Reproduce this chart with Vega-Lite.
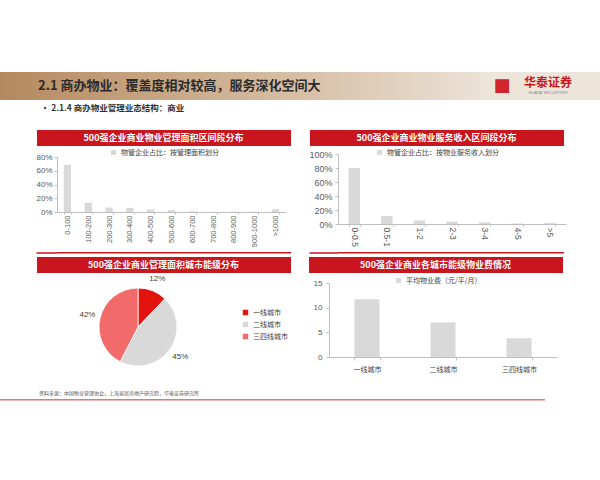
{
  "$schema": "https://vega.github.io/schema/vega-lite/v6.json",
  "background": "white",
  "padding": {"top": 72, "left": 0, "right": 0, "bottom": 0},
  "config": {
    "view": {"stroke": null},
    "font": "Noto Sans CJK SC",
    "axis": {"labelFont": "Liberation Sans", "labelFontSize": 8, "labelColor": "#595959", "domainColor": "#bfbfbf", "tickColor": "#bfbfbf", "grid": false, "title": null},
    "legend": {"labelFont": "Noto Sans CJK SC", "labelColor": "#404040", "labelFontSize": 7, "symbolType": "square", "symbolStrokeWidth": 0, "padding": 0},
    "title": {"font": "Noto Sans CJK SC"}
  },
  "spacing": 3,
  "resolve": {"scale": {"color": "independent"}, "legend": {"color": "independent"}},
  "vconcat": [
    {
      "spacing": 0,
      "hconcat": [
        {
          "width": 480, "height": 28,
          "layer": [
            {"data": {"values": [{}]}, "mark": {"type": "rect", "color": {"gradient": "linear", "x1": 0, "x2": 1, "y1": 0, "y2": 0, "stops": [{"offset": 0, "color": "#b5895f"}, {"offset": 0.6, "color": "#d6bda3"}, {"offset": 1, "color": "#ebe1d5"}]}}, "encoding": {}},
            {"data": {"values": [{"t": "2.1 商办物业：覆盖度相对较高，服务深化空间大"}]}, "mark": {"type": "text", "align": "left", "dx": -202, "fontSize": 13, "fontWeight": "bold", "color": "#2b2b2b"}, "encoding": {"text": {"field": "t"}}}
          ]
        },
        {
          "width": 120, "height": 28,
          "layer": [
            {"data": {"values": [{}]}, "mark": {"type": "rect", "color": "#ede4da"}, "encoding": {}},
            {"data": {"values": [{"t": "华泰证券"}]}, "mark": {"type": "text", "fontSize": 12, "fontWeight": "bold", "color": "#c8161d", "dx": 8, "dy": -3}, "encoding": {"text": {"field": "t"}}},
            {"data": {"values": [{"t": "HUATAI SECURITIES"}]}, "mark": {"type": "text", "fontSize": 4, "font": "Liberation Sans", "color": "#8a8a8a", "dx": 8, "dy": 7}, "encoding": {"text": {"field": "t"}}},
            {"data": {"values": [{"t": "■"}]}, "mark": {"type": "text", "fontSize": 18, "font": "DejaVu Sans", "color": "#d0252b", "dx": -38}, "encoding": {"text": {"field": "t"}}}
          ]
        }
      ]
    },
    {
      "spacing": 34,
      "resolve": {"scale": {"color": "independent"}, "legend": {"color": "independent"}},
      "hconcat": [
        {"width": 1, "height": 1, "data": {"values": []}, "mark": "point", "encoding": {}},
        {
          "title": {"text": "•   2.1.4 商办物业管理业态结构：商业", "anchor": "start", "dx": 5, "fontSize": 8.5, "fontWeight": "bold", "color": "#333333", "offset": 18},
          "spacing": 1,
          "resolve": {"scale": {"color": "independent"}, "legend": {"color": "independent"}},
          "vconcat": [
            {
              "spacing": 17,
              "resolve": {"scale": {"color": "independent"}, "legend": {"color": "independent"}},
              "hconcat": [
                {
                  "spacing": 3,
                  "resolve": {"scale": {"color": "independent"}, "legend": {"color": "independent"}},
                  "vconcat": [
                    {
                      "width": 234, "height": 16, "view": {"fill": "#c9151e"},
                      "data": {"values": [{"t": "500强企业商业物业管理面积区间段分布"}]},
                      "mark": {"type": "text", "color": "white", "fontSize": 9, "fontWeight": "bold", "dx": -10.5},
                      "encoding": {
                        "text": {"field": "t"},
                        "y": {"datum": 8, "type": "quantitative", "scale": {"domain": [0, 16]}, "axis": {"values": [1, 3, 5, 7, 9, 11, 13, 15], "labels": false, "domain": false, "translate": 0, "tickSize": 20, "tickWidth": 2, "tickColor": "#c9151e", "minExtent": 21}}
                      }
                    },
                    {
                      "width": 229, "height": 55,
                      "data": {"values": [
                        {"range": "0-100", "share": 0.685},
                        {"range": "100-200", "share": 0.135},
                        {"range": "200-300", "share": 0.065},
                        {"range": "300-400", "share": 0.06},
                        {"range": "400-500", "share": 0.037},
                        {"range": "500-600", "share": 0.025},
                        {"range": "600-700", "share": 0.01},
                        {"range": "700-800", "share": 0.003},
                        {"range": "800-900", "share": 0.006},
                        {"range": "900-1000", "share": 0.005},
                        {"range": ">1000", "share": 0.042}
                      ]},
                      "mark": "bar",
                      "encoding": {
                        "x": {"field": "range", "type": "nominal", "sort": null, "scale": {"paddingInner": 0.65, "paddingOuter": 0.325}, "axis": {"labelAngle": -90, "labelFontSize": 7.5, "tickBand": "extent", "tickSize": 2, "labelPadding": 1}},
                        "y": {"field": "share", "type": "quantitative", "scale": {"domain": [0, 0.8]}, "axis": {"values": [0, 0.2, 0.4, 0.6, 0.8], "format": ".0%", "tickSize": 3, "labelPadding": 2, "minExtent": 21}},
                        "color": {"datum": "物管企业占比：按管理面积划分", "type": "nominal", "scale": {"range": ["#d9d9d9"]}, "legend": {"orient": "none", "legendX": 53, "legendY": -8, "title": null, "symbolSize": 25}}
                      }
                    },
                    {
                      "width": 234, "height": 1.5, "view": {"fill": "#c9151e"},
                      "data": {"values": [{}]},
                      "mark": {"type": "point", "opacity": 0},
                      "encoding": {
                        "y": {"datum": 0.5, "type": "quantitative", "scale": {"domain": [0, 1]}, "axis": {"values": [0.5], "labels": false, "domain": false, "translate": 0, "tickSize": 20.5, "tickWidth": 1.5, "tickColor": "#c9151e", "minExtent": 21}}
                      }
                    }
                  ]
                },
                {
                  "spacing": 3,
                  "resolve": {"scale": {"color": "independent"}, "legend": {"color": "independent"}},
                  "vconcat": [
                    {
                      "width": 226, "height": 16, "view": {"fill": "#c9151e"},
                      "data": {"values": [{"t": "500强企业商业物业服务收入区间段分布"}]},
                      "mark": {"type": "text", "color": "white", "fontSize": 9, "fontWeight": "bold", "dx": -14.5},
                      "encoding": {
                        "text": {"field": "t"},
                        "y": {"datum": 8, "type": "quantitative", "scale": {"domain": [0, 16]}, "axis": {"values": [1, 3, 5, 7, 9, 11, 13, 15], "labels": false, "domain": false, "translate": 0, "tickSize": 28, "tickWidth": 2, "tickColor": "#c9151e", "minExtent": 29}}
                      }
                    },
                    {
                      "width": 228, "height": 70,
                      "data": {"values": [
                        {"range": "0-0.5", "share": 0.80},
                        {"range": "0.5-1", "share": 0.114},
                        {"range": "1-2", "share": 0.05},
                        {"range": "2-3", "share": 0.033},
                        {"range": "3-4", "share": 0.024},
                        {"range": "4-5", "share": 0.008},
                        {"range": ">5", "share": 0.015}
                      ]},
                      "mark": "bar",
                      "encoding": {
                        "x": {"field": "range", "type": "nominal", "sort": null, "scale": {"paddingInner": 0.65, "paddingOuter": 0.325}, "axis": {"labelAngle": 90, "labelFontSize": 8.5, "tickBand": "extent", "tickSize": 2, "labelPadding": 1}},
                        "y": {"field": "share", "type": "quantitative", "scale": {"domain": [0, 1]}, "axis": {"values": [0, 0.2, 0.4, 0.6, 0.8, 1], "format": ".0%", "labelFontSize": 9, "tickSize": 3, "labelPadding": 3, "minExtent": 29}},
                        "color": {"datum": "物管企业占比：按物业服务收入划分", "type": "nominal", "scale": {"range": ["#d9d9d9"]}, "legend": {"orient": "none", "legendX": 38, "legendY": -5, "title": null, "symbolSize": 25}}
                      }
                    },
                    {
                      "width": 226, "height": 1.5, "view": {"fill": "#c9151e"},
                      "data": {"values": [{}]},
                      "mark": {"type": "point", "opacity": 0},
                      "encoding": {
                        "y": {"datum": 0.5, "type": "quantitative", "scale": {"domain": [0, 1]}, "axis": {"values": [0.5], "labels": false, "domain": false, "translate": 0, "tickSize": 28.5, "tickWidth": 1.5, "tickColor": "#c9151e", "minExtent": 29}}
                      }
                    }
                  ]
                }
              ]
            },
            {
              "spacing": 17,
              "resolve": {"scale": {"color": "independent"}, "legend": {"color": "independent"}},
              "hconcat": [
                {
                  "spacing": 1,
                  "title": {"text": "资料来源：中国物业管理协会，上海易居房地产研究院，华泰证券研究所", "orient": "bottom", "anchor": "start", "fontSize": 5, "fontWeight": "normal", "color": "#555555", "offset": 20, "dx": 3},
                  "resolve": {"scale": {"color": "independent"}, "legend": {"color": "independent"}},
                  "vconcat": [
                    {
                      "width": 234, "height": 16, "view": {"fill": "#c9151e"},
                      "data": {"values": [{"t": "500强企业商业管理面积城市能级分布"}]},
                      "mark": {"type": "text", "color": "white", "fontSize": 9, "fontWeight": "bold", "dx": -10.5},
                      "encoding": {
                        "text": {"field": "t"},
                        "y": {"datum": 8, "type": "quantitative", "scale": {"domain": [0, 16]}, "axis": {"values": [1, 3, 5, 7, 9, 11, 13, 15], "labels": false, "domain": false, "translate": 0, "tickSize": 20, "tickWidth": 2, "tickColor": "#c9151e", "minExtent": 21}}
                      }
                    },
                    {
                      "width": 162, "height": 88,
                      "data": {"values": [
                        {"city": "一线城市", "pct": 0.12},
                        {"city": "二线城市", "pct": 0.45},
                        {"city": "三四线城市", "pct": 0.42}
                      ]},
                      "transform": [{"window": [{"op": "row_number", "as": "rank"}]}],
                      "encoding": {
                        "theta": {"field": "pct", "type": "quantitative", "stack": true},
                        "order": {"field": "rank", "type": "quantitative"}
                      },
                      "layer": [
                        {
                          "mark": {"type": "arc", "outerRadius": 39, "stroke": "white", "strokeWidth": 0.8},
                          "encoding": {
                            "color": {"field": "city", "type": "nominal", "sort": null, "scale": {"domain": ["一线城市", "二线城市", "三四线城市"], "range": ["#e3140f", "#d9d9d9", "#f26b6b"]}, "legend": {"orient": "none", "legendX": 185, "legendY": 26, "title": null, "symbolSize": 30, "rowPadding": 4}}
                          }
                        },
                        {
                          "mark": {"type": "text", "radius": 52, "fontSize": 8, "font": "Liberation Sans", "color": "#404040"},
                          "encoding": {"text": {"field": "pct", "type": "quantitative", "format": ".0%"}}
                        }
                      ]
                    }
                  ]
                },
                {
                  "spacing": 4,
                  "resolve": {"scale": {"color": "independent"}, "legend": {"color": "independent"}},
                  "vconcat": [
                    {
                      "width": 234, "height": 16, "view": {"fill": "#c9151e"},
                      "data": {"values": [{"t": "500强企业商业各城市能级物业费情况"}]},
                      "mark": {"type": "text", "color": "white", "fontSize": 9, "fontWeight": "bold", "dx": -10.5},
                      "encoding": {
                        "text": {"field": "t"},
                        "y": {"datum": 8, "type": "quantitative", "scale": {"domain": [0, 16]}, "axis": {"values": [1, 3, 5, 7, 9, 11, 13, 15], "labels": false, "domain": false, "translate": 0, "tickSize": 20, "tickWidth": 2, "tickColor": "#c9151e", "minExtent": 21}}
                      }
                    },
                    {
                      "width": 228, "height": 74,
                      "data": {"values": [
                        {"city": "一线城市", "fee": 11.7},
                        {"city": "二线城市", "fee": 7.0},
                        {"city": "三四线城市", "fee": 3.8}
                      ]},
                      "mark": "bar",
                      "encoding": {
                        "x": {"field": "city", "type": "nominal", "sort": null, "scale": {"paddingInner": 0.67, "paddingOuter": 0.335}, "axis": {"labelAngle": 0, "labelFont": "Noto Sans CJK SC", "labelFontSize": 7, "labelColor": "#404040", "tickBand": "extent", "tickSize": 3, "labelPadding": 5}},
                        "y": {"field": "fee", "type": "quantitative", "scale": {"domain": [0, 15]}, "axis": {"values": [0, 5, 10, 15], "tickSize": 3, "labelPadding": 4, "minExtent": 21}},
                        "color": {"datum": "平均物业费（元/平/月）", "type": "nominal", "scale": {"range": ["#d9d9d9"]}, "legend": {"orient": "none", "legendX": 66, "legendY": -6, "title": null, "symbolSize": 25}}
                      }
                    }
                  ]
                }
              ]
            }
          ]
        }
      ]
    },
    {"width": 545, "height": 1.5, "data": {"values": [{}]}, "mark": {"type": "rect", "color": "#e07a7a"}, "encoding": {}}
  ]
}
